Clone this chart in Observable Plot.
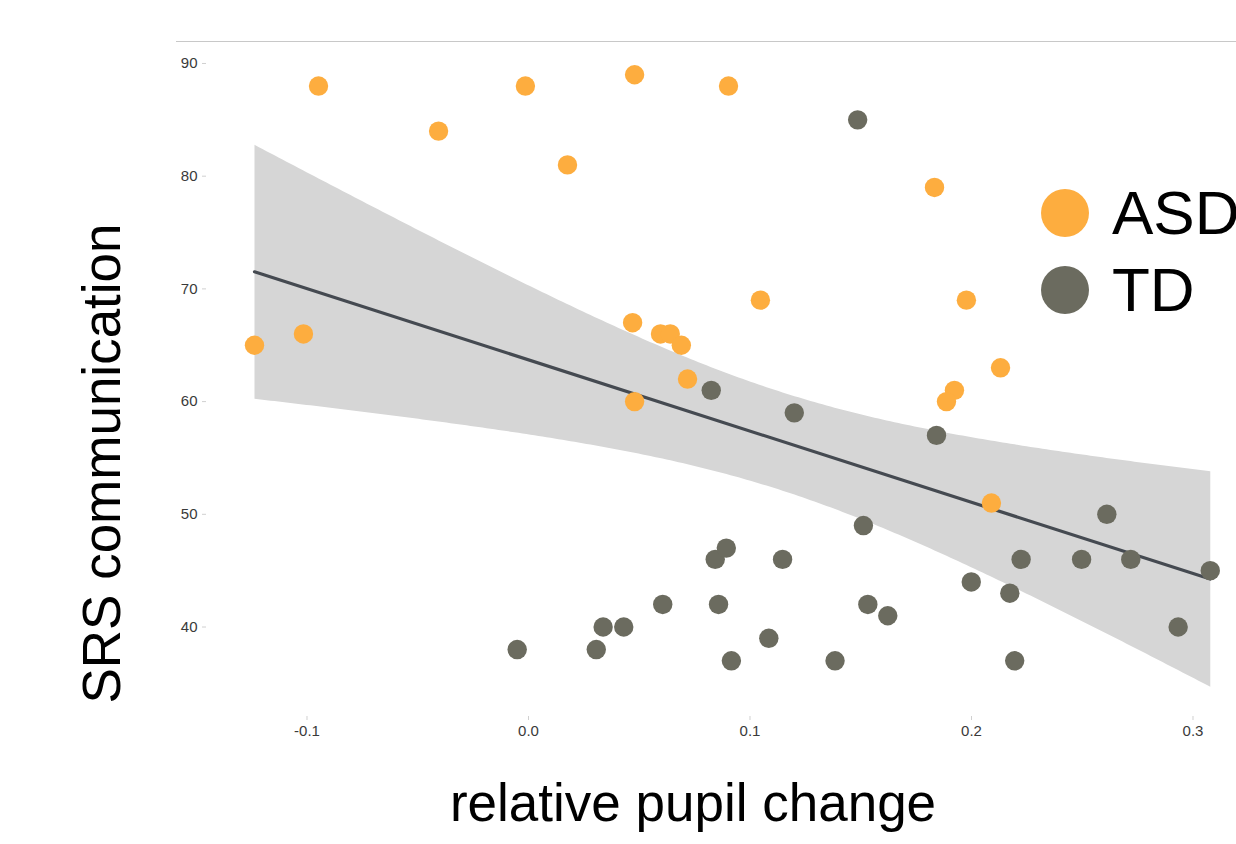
<!DOCTYPE html>
<html>
<head>
<meta charset="utf-8">
<script src="https://cdn.jsdelivr.net/npm/d3@7"></script>
<script src="https://cdn.jsdelivr.net/npm/@observablehq/plot@0.6"></script>
<style>
  html, body { margin: 0; padding: 0; background: #fff; overflow: hidden; }
  #wrap { position: relative; width: 1236px; height: 844px; overflow: hidden; font-family: "Liberation Sans", Arial, Helvetica, sans-serif; }
  .leg { position: absolute; left: 1041px; display: flex; align-items: center; }
  .leg .sw { width: 48px; height: 48px; border-radius: 50%; }
  .leg .lb { margin-left: 23px; font-size: 62px; line-height: 48px; color: #000; white-space: nowrap; }
</style>
</head>
<body>
<div id="wrap"></div>
<script>
// ASD group
const asdX = [-0.0948, -0.0014, 0.0479, 0.0903, -0.0406, 0.0176, 0.1833, -0.1237, -0.1016, 0.047, 0.0596, 0.064, 0.069, 0.0718, 0.0479, 0.1047, 0.1977, 0.2131, 0.1923, 0.1887, 0.209];
const asdY = [88, 88, 89, 88, 84, 81, 79, 65, 66, 67, 66, 66, 65, 62, 60, 69, 69, 63, 61, 60, 51];
// TD group
const tdX = [-0.0051, 0.0306, 0.0337, 0.043, 0.0606, 0.0825, 0.0843, 0.0858, 0.0893, 0.0916, 0.1085, 0.1147, 0.120, 0.1384, 0.1486, 0.1512, 0.1532, 0.1622, 0.1842, 0.1999, 0.2173, 0.2195, 0.2224, 0.2497, 0.2611, 0.2719, 0.2933, 0.3078];
const tdY = [38, 38, 40, 40, 42, 61, 46, 42, 47, 37, 39, 46, 59, 37, 85, 49, 42, 41, 57, 44, 43, 37, 46, 46, 50, 46, 40, 45];

const groups = ["ASD", "TD"];
const groupColors = ["#fdad3f", "#6b6b5f"];
const xTicks = [-0.1, 0.0, 0.1, 0.2, 0.3];
const yTicks = [40, 50, 60, 70, 80, 90];
const xTitle = "relative pupil change";
const yTitle = "SRS communication";

const data = [
  ...asdX.map((x, i) => ({x, y: asdY[i], group: "ASD"})),
  ...tdX.map((x, i) => ({x, y: tdY[i], group: "TD"}))
];

const chart = Plot.plot({
  width: 1236,
  height: 844,
  marginLeft: 206,
  marginRight: 0,
  marginTop: 41,
  marginBottom: 128,
  style: {fontFamily: "'Liberation Sans', Arial, Helvetica, sans-serif", background: "transparent"},
  x: {domain: [-0.14537, 0.31964]},
  y: {domain: [32.06, 91.95]},
  color: {domain: groups, range: groupColors},
  marks: [
    Plot.frame({anchor: "top", stroke: "#c8c8c8", insetLeft: -30}),
    Plot.axisX({ticks: xTicks, tickFormat: d => d.toFixed(1), tickSize: 4, tickPadding: 5, stroke: "#d0d0d0", fill: "#3a3a3a", fontSize: 15, label: null}),
    Plot.axisY({ticks: yTicks, tickSize: 4, tickPadding: 5, stroke: "#d0d0d0", fill: "#3a3a3a", fontSize: 15, label: null}),
    Plot.linearRegressionY(data, {x: "x", y: "y", ci: 0.95, stroke: "#454a51", strokeWidth: 3.2, fill: "#d6d6d6", fillOpacity: 1}),
    Plot.dot(data, {x: "x", y: "y", fill: "group", r: 9.7}),
    Plot.text([xTitle], {frameAnchor: "bottom", dx: -28.5, dy: 88, lineAnchor: "middle", textAnchor: "middle", fontSize: 53, fill: "#000"}),
    Plot.text([yTitle], {frameAnchor: "left", dx: -103, dy: 84.5, rotate: -90, lineAnchor: "middle", textAnchor: "middle", fontSize: 53, fill: "#000"})
  ]
});

const wrap = document.getElementById("wrap");
wrap.appendChild(chart);

const legTops = [189, 266];
groups.forEach((g, i) => {
  const item = document.createElement("div");
  item.className = "leg";
  item.style.top = legTops[i] + "px";
  const sw = document.createElement("div");
  sw.className = "sw";
  sw.style.background = groupColors[i];
  const lb = document.createElement("span");
  lb.className = "lb";
  lb.textContent = g;
  item.appendChild(sw);
  item.appendChild(lb);
  wrap.appendChild(item);
});
</script>
</body>
</html>
